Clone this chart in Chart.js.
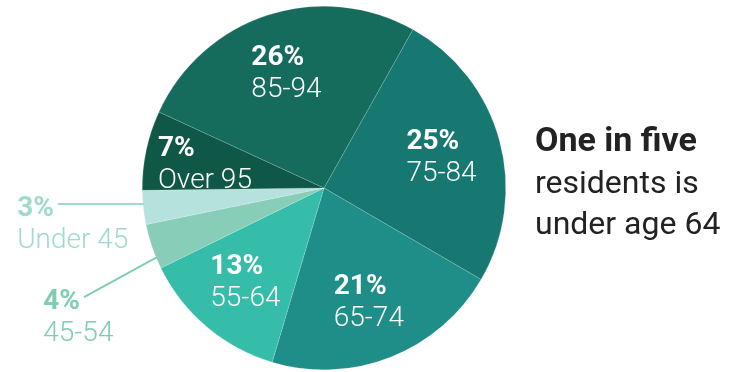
<!DOCTYPE html>
<html>
<head>
<meta charset="utf-8">
<script src="https://cdn.jsdelivr.net/npm/chart.js@4.4.1/dist/chart.umd.min.js"></script>
<style>
  html, body { margin: 0; padding: 0; background: #fff; }
  #wrap { width: 738px; height: 372px; }
</style>
</head>
<body>
<div id="wrap"><canvas id="ageChart" width="738" height="372"></canvas></div>
<script>
const ageGroups = ["75-84", "65-74", "55-64", "45-54", "Under 45", "Over 95", "85-94"];
const shares = [25, 21, 13, 4, 3, 7, 26];
const sliceColors = ["#177872", "#1f8d88", "#36bda9", "#87cdb8", "#b6e2dd", "#0f5847", "#156c5c"];
const calloutLines = ["One in five", "residents is", "under age 64"];

// small slices get their label outside, on a leader line
const outsideLabels = {
  "45-54": { at: 0.25, dx: -73, dy: 40, color: "#80cdb5" },
  "Under 45": { at: 0.6, dx: -86, dy: 0, color: "#9fd9cf" }
};

const FONT = "Roboto, 'Noto Sans', sans-serif";
const PCT_FONT = "bold 28px " + FONT;
const NAME_FONT = "300 28px " + FONT;

const sliceLabels = {
  id: "sliceLabels",
  afterDatasetsDraw(chart) {
    const ctx = chart.ctx;
    const arcs = chart.getDatasetMeta(0).data;
    ctx.save();
    ctx.textAlign = "left";
    ctx.textBaseline = "alphabetic";
    arcs.forEach((arc, i) => {
      const { x, y, startAngle, endAngle, outerRadius } =
        arc.getProps(["x", "y", "startAngle", "endAngle", "outerRadius"], true);
      const pct = shares[i] + "%";
      const name = ageGroups[i];
      const out = outsideLabels[name];

      if (out) {
        const a = startAngle + (endAngle - startAngle) * out.at;
        const x0 = x + Math.cos(a) * (outerRadius - 1);
        const y0 = y + Math.sin(a) * (outerRadius - 1);
        const x1 = x0 + out.dx;
        const y1 = y0 + out.dy;
        ctx.strokeStyle = out.color;
        ctx.lineWidth = 2;
        ctx.beginPath();
        ctx.moveTo(x0, y0);
        ctx.lineTo(x1, y1);
        ctx.stroke();

        ctx.fillStyle = out.color;
        ctx.font = PCT_FONT;
        const left = x1 - 4 - ctx.measureText(pct).width;
        ctx.fillText(pct, left, y1 + 12);
        ctx.font = NAME_FONT;
        ctx.fillText(name, left, y1 + 44);
      } else {
        const a = (startAngle + endAngle) / 2;
        const cx = x + Math.cos(a) * outerRadius * 0.67;
        const cy = y + Math.sin(a) * outerRadius * 0.67;
        ctx.font = PCT_FONT;
        const w1 = ctx.measureText(pct).width;
        ctx.font = NAME_FONT;
        const w2 = ctx.measureText(name).width;
        const left = cx - Math.max(w1, w2) / 2;

        ctx.fillStyle = "#fff";
        ctx.font = PCT_FONT;
        ctx.fillText(pct, left, cy - 7);
        ctx.font = NAME_FONT;
        ctx.fillText(name, left, cy + 25);
      }
    });
    ctx.restore();
  },
  afterDraw(chart) {
    const ctx = chart.ctx;
    ctx.save();
    ctx.fillStyle = "#222";
    ctx.textAlign = "left";
    ctx.textBaseline = "alphabetic";
    ctx.font = "bold 34px " + FONT;
    ctx.fillText(calloutLines[0], 535, 151);
    ctx.font = "32px " + FONT;
    ctx.fillText(calloutLines[1], 535, 193);
    ctx.fillText(calloutLines[2], 535, 234);
    ctx.restore();
  }
};

new Chart(document.getElementById("ageChart"), {
  type: "pie",
  data: {
    labels: ageGroups,
    datasets: [{
      data: shares,
      backgroundColor: sliceColors,
      borderColor: "rgba(255,255,255,0.3)",
      borderWidth: 0.5
    }]
  },
  options: {
    responsive: false,
    devicePixelRatio: 1,
    animation: false,
    rotation: 29.3,
    layout: { padding: { top: 6, bottom: 2, left: 0, right: 90 } },
    plugins: {
      legend: { display: false },
      tooltip: { enabled: false }
    }
  },
  plugins: [sliceLabels]
});
</script>
</body>
</html>
